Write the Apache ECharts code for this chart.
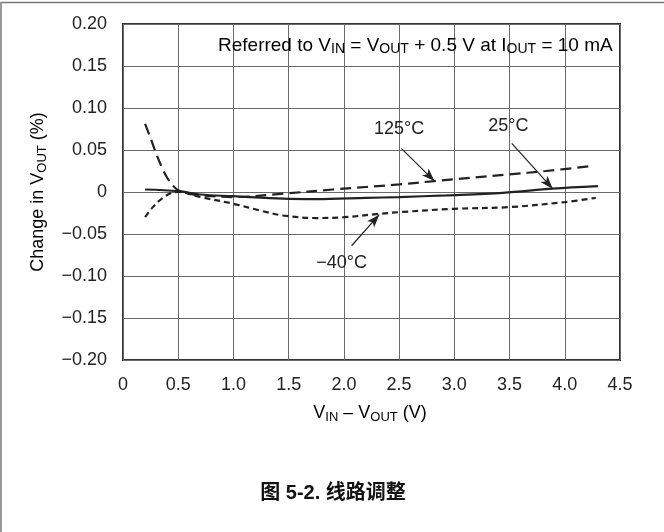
<!DOCTYPE html>
<html>
<head>
<meta charset="utf-8">
<script src="https://cdn.jsdelivr.net/npm/echarts@6/dist/echarts.min.js"></script>
<style>
  html, body { margin: 0; padding: 0; background: #fff; }
  #chart { width: 664px; height: 532px; }
</style>
</head>
<body>
<div id="chart"></div>
<script>
// Line regulation: change in output voltage vs. headroom (VIN - VOUT)
const xTicks = [0, 0.5, 1.0, 1.5, 2.0, 2.5, 3.0, 3.5, 4.0, 4.5];
const yTicks = [-0.20, -0.15, -0.10, -0.05, 0, 0.05, 0.10, 0.15, 0.20];

// [VIN - VOUT (V), change in VOUT (%)]
const curve125C = [
  [0.20, 0.081], [0.25, 0.064], [0.30, 0.046], [0.35, 0.030], [0.40, 0.017],
  [0.45, 0.008], [0.50, 0.002], [0.60, -0.002], [0.70, -0.004], [1.00, -0.006],
  [1.45, -0.002], [1.90, 0.003], [2.50, 0.009], [2.82, 0.013], [3.50, 0.021],
  [3.83, 0.025], [4.25, 0.031]
];
const curve25C = [
  [0.20, 0.003], [0.50, 0.001], [0.70, -0.003], [1.00, -0.005], [1.45, -0.008],
  [1.75, -0.0085], [2.20, -0.007], [2.50, -0.006], [2.93, -0.004], [3.44, -0.001],
  [3.89, 0.004], [4.30, 0.007]
];
const curveM40C = [
  [0.20, -0.030], [0.27, -0.018], [0.36, -0.007], [0.44, -0.001], [0.50, 0.000],
  [0.70, -0.006], [1.00, -0.014], [1.24, -0.022], [1.45, -0.028], [1.75, -0.031],
  [2.00, -0.030], [2.32, -0.026], [2.50, -0.024], [3.00, -0.020], [3.50, -0.018],
  [4.00, -0.012], [4.28, -0.007]
];

// Curve callouts: label position, arrow tail, arrow head
const tempLabels = ['125°C', '25°C', '−40°C'];
const labelAt = [[2.50, 0.075], [3.49, 0.078], [1.98, -0.084]];
const arrowFrom = [[2.52, 0.052], [3.52, 0.058], [2.07, -0.064]];
const arrowTo = [[2.82, 0.013], [3.89, 0.004], [2.32, -0.027]];

const FONT = '"Liberation Sans", Arial, Helvetica, sans-serif';
const INK = '#222';
const GRID = '#6a6a6a';

function fmtY(v) {
  const r = Math.round(v * 100) / 100;
  if (Math.abs(r) < 1e-9) return '0';
  return (r < 0 ? '\u2212' : '') + Math.abs(r).toFixed(2);
}
function fmtX(v) {
  const r = Math.round(v * 10) / 10;
  if (Math.abs(r) < 1e-9) return '0';
  return r.toFixed(1);
}

// rich-text styles: normal run + subscript run
function subStyles(size, subSize) {
  return {
    n: { fontSize: size, fontFamily: FONT, color: INK, lineHeight: 22, verticalAlign: 'middle' },
    s: { fontSize: subSize, fontFamily: FONT, color: INK, lineHeight: 11, verticalAlign: 'bottom' }
  };
}

function callout(i) {
  return {
    markPoint: {
      silent: true,
      symbol: 'circle',
      symbolSize: 0,
      label: {
        show: true, position: 'inside', color: INK,
        fontFamily: FONT, fontSize: 18, formatter: tempLabels[i]
      },
      data: [{ coord: labelAt[i] }]
    },
    markLine: {
      silent: true,
      symbol: ['none', 'arrow'],
      symbolSize: [7, 13],
      label: { show: false },
      lineStyle: { color: INK, width: 1.2, type: 'solid' },
      data: [[{ coord: arrowFrom[i] }, { coord: arrowTo[i] }]]
    }
  };
}

const chart = echarts.init(document.getElementById('chart'), null, { renderer: 'canvas' });

const option = {
  animation: false,
  backgroundColor: '#fff',
  grid: {
    left: 123, top: 24, width: 497, height: 336,
    show: true, borderColor: '#333', borderWidth: 2, backgroundColor: 'transparent'
  },
  xAxis: {
    type: 'value', min: xTicks[0], max: xTicks[xTicks.length - 1], interval: 0.5,
    axisLine: { show: false }, axisTick: { show: false },
    splitLine: { show: true, lineStyle: { color: GRID, width: 1 } },
    axisLabel: {
      color: INK, fontFamily: FONT, fontSize: 18, margin: 16,
      formatter: fmtX
    }
  },
  yAxis: {
    type: 'value', min: yTicks[0], max: yTicks[yTicks.length - 1], interval: 0.05,
    axisLine: { show: false }, axisTick: { show: false },
    splitLine: { show: true, lineStyle: { color: GRID, width: 1 } },
    axisLabel: {
      color: INK, fontFamily: FONT, fontSize: 18, margin: 16,
      formatter: fmtY
    }
  },
  series: [
    Object.assign({
      name: '125°C', type: 'line', data: curve125C, smooth: 0.35, showSymbol: false,
      lineStyle: { color: INK, width: 2.2, type: [11, 6] }
    }, callout(0)),
    Object.assign({
      name: '25°C', type: 'line', data: curve25C, smooth: 0.35, showSymbol: false,
      lineStyle: { color: INK, width: 2.2, type: 'solid' }
    }, callout(1)),
    Object.assign({
      name: '−40°C', type: 'line', data: curveM40C, smooth: 0.35, showSymbol: false,
      lineStyle: { color: INK, width: 2.2, type: [6, 4] }
    }, callout(2))
  ],
  graphic: [
    // frame around the figure
    { type: 'line', silent: true, shape: { x1: 1, y1: 2.5, x2: 664, y2: 2.5 }, style: { stroke: '#777', lineWidth: 1.5 } },
    { type: 'line', silent: true, shape: { x1: 1, y1: 2, x2: 1, y2: 532 }, style: { stroke: '#777', lineWidth: 1.5 } },
    // test condition note
    {
      type: 'text', silent: true, left: 218, top: 36, z: 10,
      style: {
        text: '{n|Referred to V}{s|IN}{n| = V}{s|OUT}{n| + 0.5 V at I}{s|OUT}{n| = 10 mA}',
        rich: subStyles(19, 14)
      }
    },
    // y-axis title
    {
      type: 'text', silent: true, x: 38, y: 192, rotation: Math.PI / 2,
      style: {
        text: '{n|Change in V}{s|OUT}{n| (%)}', rich: subStyles(18, 13),
        align: 'center', verticalAlign: 'middle'
      }
    },
    // x-axis title
    {
      type: 'text', silent: true, x: 370, y: 413,
      style: {
        text: '{n|V}{s|IN}{n| \u2013 V}{s|OUT}{n| (V)}', rich: subStyles(18, 13),
        align: 'center', verticalAlign: 'middle'
      }
    },
    // figure caption
    {
      type: 'text', silent: true, x: 333, y: 493,
      style: {
        text: '图 5-2. 线路调整', fill: '#111',
        font: 'bold 20px "Liberation Sans", "Noto Sans CJK SC", sans-serif',
        align: 'center', verticalAlign: 'middle'
      }
    }
  ]
};

chart.setOption(option);
</script>
</body>
</html>
